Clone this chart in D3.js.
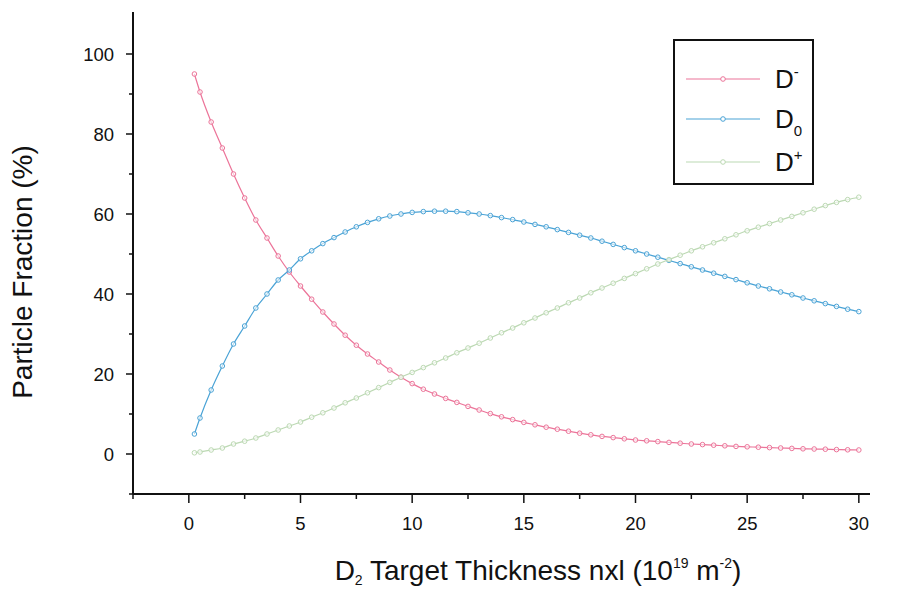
<!DOCTYPE html>
<html><head><meta charset="utf-8">
<script src="https://cdn.jsdelivr.net/npm/d3@7"></script>
<style>body{margin:0;background:#fff}svg{display:block}text{font-family:"Liberation Sans",Arial,sans-serif;fill:#111}</style>
</head><body><svg id="c" width="908" height="592"></svg>
<script>
const thickness = [0.25,0.5,1,1.5,2,2.5,3,3.5,4,4.5,5,5.5,6,6.5,7,7.5,8,8.5,9,9.5,10,10.5,11,11.5,12,12.5,13,13.5,14,14.5,15,15.5,16,16.5,17,17.5,18,18.5,19,19.5,20,20.5,21,21.5,22,22.5,23,23.5,24,24.5,25,25.5,26,26.5,27,27.5,28,28.5,29,29.5,30];
const dMinus = [95,90.5,83,76.5,70,64,58.5,54,49.5,45.5,42,38.7,35.5,32.5,29.7,27.2,25,23,21,19.2,17.6,16.2,15,13.9,12.9,11.9,11,10.1,9.3,8.6,7.9,7.3,6.7,6.2,5.7,5.2,4.8,4.4,4.1,3.8,3.5,3.3,3.1,2.9,2.7,2.5,2.35,2.2,2.05,1.9,1.8,1.7,1.6,1.5,1.4,1.3,1.25,1.2,1.1,1.05,1.0];
const dZero = [5,9,16,22,27.5,32,36.5,40,43.5,46,48.8,50.8,52.6,54.1,55.5,56.8,57.9,58.8,59.5,60,60.4,60.6,60.7,60.7,60.6,60.3,60,59.6,59.1,58.6,58,57.4,56.8,56.1,55.4,54.7,54,53.2,52.4,51.6,50.8,50,49.2,48.4,47.6,46.8,46,45.2,44.4,43.6,42.8,42,41.3,40.5,39.8,39,38.3,37.6,36.9,36.2,35.6];
const dPlus = [0.3,0.5,1,1.5,2.5,3.2,4,5,6,7,8,9.2,10.3,11.5,12.8,14,15.3,16.6,17.9,19.2,20.4,21.6,22.8,24,25.3,26.5,27.7,29,30.3,31.5,32.8,34,35.3,36.5,37.8,39,40.3,41.5,42.7,43.9,45.1,46.3,47.5,48.6,49.7,50.8,51.8,52.8,53.8,54.8,55.8,56.7,57.6,58.5,59.4,60.3,61.2,62.1,62.9,63.6,64.2];
const xTicks = [0,5,10,15,20,25,30];
const yTicks = [0,20,40,60,80,100];
const seriesNames = ["D-","D0","D+"];
const seriesColors = ["#ec7499","#4aa3d6","#bcd9b3"];
const seriesData = [dMinus,dZero,dPlus];

const svg = d3.select("#c");
const x = d3.scaleLinear().domain([-2.5,30.5]).range([133,870]);
const y = d3.scaleLinear().domain([-10,110.5]).range([494,12]);

// axes
const xAxis = svg.append("g").attr("transform","translate(0,494)");
xAxis.append("line").attr("x1",x(-2.5)).attr("x2",x(30.5)).attr("stroke","#111").attr("stroke-width",2);
d3.range(-2.5,30.5,2.5).forEach(v=>{
  const major = v%5===0;
  xAxis.append("line").attr("x1",x(v)).attr("x2",x(v)).attr("y1",0).attr("y2",major?9:5).attr("stroke","#111").attr("stroke-width",1.5);
});
xTicks.forEach(v=>xAxis.append("text").attr("x",x(v)).attr("y",36).attr("text-anchor","middle").attr("font-size",18.5).text(v));

const yAxis = svg.append("g").attr("transform","translate(133,0)");
yAxis.append("line").attr("y1",y(-10)).attr("y2",y(110.5)).attr("stroke","#111").attr("stroke-width",2);
d3.range(-10,110,10).forEach(v=>{
  const major = v%20===0;
  yAxis.append("line").attr("x1",major?-7:-4).attr("x2",0).attr("y1",y(v)).attr("y2",y(v)).attr("stroke","#111").attr("stroke-width",1.5);
});
yTicks.forEach(v=>yAxis.append("text").attr("x",-19).attr("y",y(v)).attr("dy","0.36em").attr("text-anchor","end").attr("font-size",18.5).text(v));

// series
const line = d3.line().x((d,i)=>x(thickness[i])).y(d=>y(d)).curve(d3.curveMonotoneX);
seriesData.forEach((vals,k)=>{
  const g = svg.append("g");
  g.append("path").datum(vals).attr("d",line).attr("fill","none").attr("stroke",seriesColors[k]).attr("stroke-width",1.2);
  g.selectAll("circle").data(vals).join("circle")
    .attr("cx",(d,i)=>x(thickness[i])).attr("cy",d=>y(d)).attr("r",2.3)
    .attr("fill","#fff").attr("fill-opacity",0.6).attr("stroke",seriesColors[k]).attr("stroke-width",1);
});

// legend
const lg = svg.append("g");
lg.append("rect").attr("x",674).attr("y",40).attr("width",139).attr("height",144).attr("fill","#fff").attr("stroke","#111").attr("stroke-width",2);
const ly = [79,119,162];
const sup = [["-","super"],["0","sub"],["+","super"]];
seriesNames.forEach((n,k)=>{
  lg.append("line").attr("x1",686).attr("x2",760).attr("y1",ly[k]).attr("y2",ly[k]).attr("stroke",seriesColors[k]).attr("stroke-width",1.2);
  lg.append("circle").attr("cx",723).attr("cy",ly[k]).attr("r",2.3).attr("fill","#fff").attr("stroke",seriesColors[k]);
  const t = lg.append("text").attr("x",775).attr("y",ly[k]+9).attr("font-size",26);
  t.append("tspan").text("D");
  t.append("tspan").attr("font-size",15).attr("dy",sup[k][1]==="super"?-11:8).text(sup[k][0]);
});

// axis titles
svg.append("text").attr("transform","translate(32,272) rotate(-90)").attr("text-anchor","middle").attr("font-size",28).text("Particle Fraction (%)");
const xt = svg.append("text").attr("x",538).attr("y",580).attr("text-anchor","middle").attr("font-size",28);
xt.append("tspan").text("D");
xt.append("tspan").attr("font-size",14).attr("dy",5).text("2");
xt.append("tspan").attr("dy",-5).text(" Target Thickness nxl (10");
xt.append("tspan").attr("font-size",14).attr("dy",-12).text("19");
xt.append("tspan").attr("dy",12).text(" m");
xt.append("tspan").attr("font-size",14).attr("dy",-12).text("-2");
xt.append("tspan").attr("dy",12).text(")");
</script></body></html>
